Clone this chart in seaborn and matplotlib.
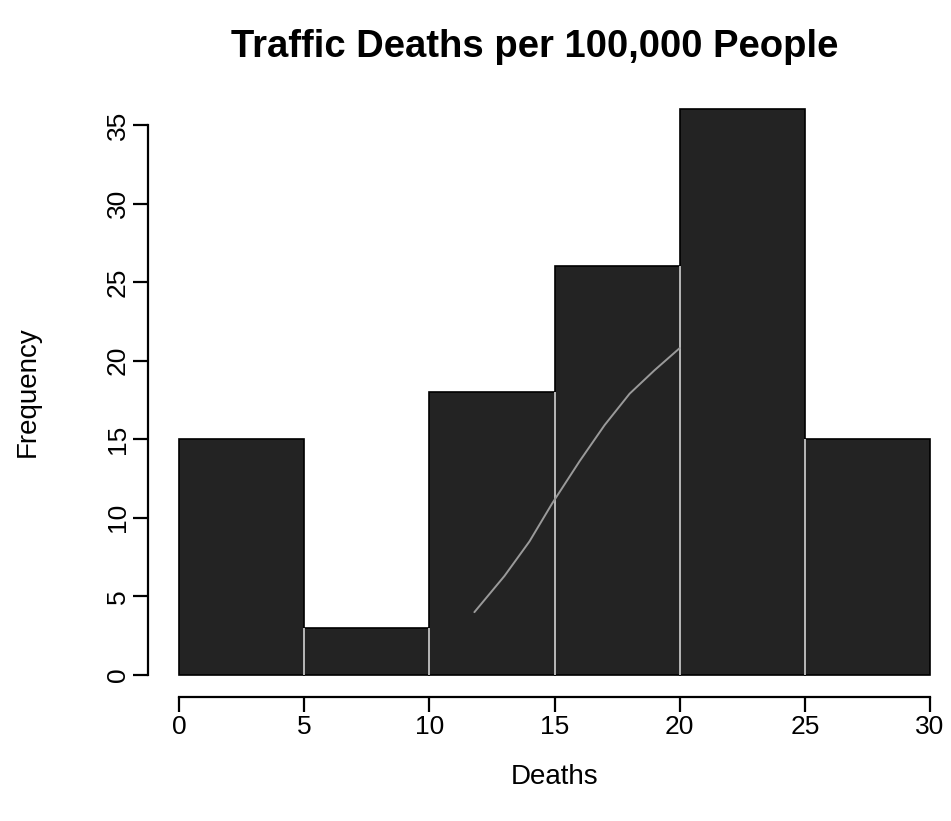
import numpy as np
import pandas as pd
import matplotlib
matplotlib.use("Agg")
import matplotlib.pyplot as plt
import seaborn as sns

# Histogram data
bin_edges = [0, 5, 10, 15, 20, 25, 30]
counts = [15, 3, 18, 26, 36, 15]
bin_mids = [2.5, 7.5, 12.5, 17.5, 22.5, 27.5]

# faint grey curve visible across the bars
curve_x = [11.8, 13.0, 14.0, 14.9, 16.0, 17.0, 18.0, 19.0, 20.0]
curve_y = [4.0, 6.3, 8.5, 10.9, 13.6, 15.9, 17.9, 19.4, 20.8]

x_ticks = [0, 5, 10, 15, 20, 25, 30]
y_ticks = [0, 5, 10, 15, 20, 25, 30, 35]

sns.set_style("ticks")
plt.rcParams['font.family'] = ['Liberation Sans', 'DejaVu Sans']
plt.rcParams['text.color'] = 'black'
plt.rcParams['axes.labelcolor'] = 'black'

fig = plt.figure(figsize=(9.51, 8.21), dpi=100)
W, H = 951, 821
# axes placed so that x=0 -> px 179, x=30 -> px 930, y=0 -> px 675, y=35 -> px 125
left_px, right_px, bottom_px, top_px = 148, 951, 697, 95
ax = fig.add_axes([left_px / W, 1 - bottom_px / H,
                   (right_px - left_px) / W, (bottom_px - top_px) / H])

xs = (930 - 179) / 30.0
ys = (675 - 125) / 35.0
ax.set_xlim((left_px - 179) / xs, (right_px - 179) / xs)
ax.set_ylim(-(bottom_px - 675) / ys, (675 - top_px) / ys)

df = pd.DataFrame({'Deaths': bin_mids, 'count': counts})
sns.histplot(data=df, x='Deaths', weights='count', bins=bin_edges, ax=ax,
             color='#232323', alpha=1.0, edgecolor='black', linewidth=1.2)

# light seams between neighbouring bars, as in the scan
inner = bin_edges[1:-1]
seam_top = [min(a, b) for a, b in zip(counts[:-1], counts[1:])]
ax.vlines(inner, 0, seam_top, colors='#b8b8b8', linewidth=1.4, zorder=3)

ax.plot(curve_x, curve_y, color='#9a9a9a', linewidth=1.4, zorder=4)

for side in ['top', 'right']:
    ax.spines[side].set_visible(False)
ax.spines['left'].set_bounds(0, 35)
ax.spines['bottom'].set_bounds(0, 30)
ax.spines['left'].set_linewidth(1.6)
ax.spines['bottom'].set_linewidth(1.6)
ax.spines['left'].set_color('black')
ax.spines['bottom'].set_color('black')

ax.set_xticks(x_ticks)
ax.set_yticks(y_ticks)
ax.tick_params(axis='both', direction='out', length=11, width=1.6,
               labelsize=19, pad=2, colors='black')
plt.setp(ax.get_yticklabels(), rotation=90, va='center')

ax.set_xlabel('Deaths', fontsize=20, color='black')
ax.set_ylabel('Frequency', fontsize=20, color='black')
ax.xaxis.label.set_verticalalignment('center')
ax.yaxis.label.set_verticalalignment('center')
ax.xaxis.set_label_coords(555 / W, 1 - 777 / H, transform=fig.transFigure)
ax.yaxis.set_label_coords(28 / W, 1 - 392 / H, transform=fig.transFigure)

fig.text(535 / W, 1 - 47 / H, 'Traffic Deaths per 100,000 People',
         ha='center', va='center', fontsize=27.5, fontweight='bold')

plt.savefig('out.png', dpi=100)
plt.close()
